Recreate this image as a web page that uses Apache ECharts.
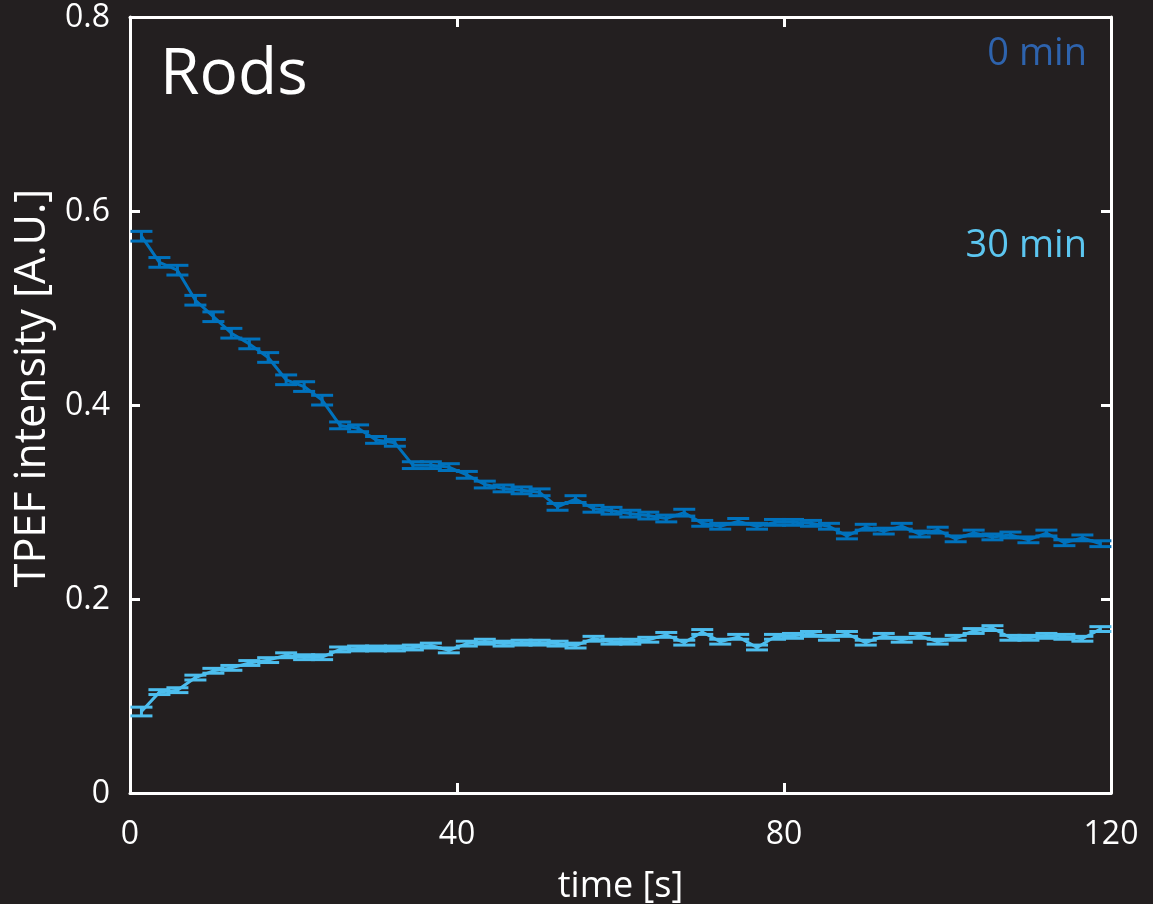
<!DOCTYPE html>
<html>
<head>
<meta charset="utf-8">
<script src="https://cdn.jsdelivr.net/npm/echarts@6/dist/echarts.min.js"></script>
<style>
  html, body { margin: 0; padding: 0; background: #231f20; }
  #chart { width: 1153px; height: 904px; }
</style>
</head>
<body>
<div id="chart"></div>
<script>
// time of each frame [s]
var times = [1.4, 3.6, 5.8, 8.0, 10.2, 12.4, 14.6, 16.9, 19.1, 21.3,
  23.5, 25.7, 27.9, 30.1, 32.4, 34.6, 36.8, 39.0, 41.2, 43.4,
  45.7, 47.9, 50.1, 52.3, 54.5, 56.7, 58.9, 61.2, 63.4, 65.6,
  67.8, 70.0, 72.2, 74.4, 76.7, 78.9, 81.1, 83.3, 85.5, 87.7,
  90.0, 92.2, 94.4, 96.6, 98.8, 101.0, 103.2, 105.5, 107.7, 109.9,
  112.1, 114.3, 116.5, 118.7];

// 0 min
var min0 = [0.574, 0.547, 0.539, 0.508, 0.491, 0.474, 0.463, 0.449, 0.426, 0.419,
  0.405, 0.379, 0.376, 0.364, 0.361, 0.338, 0.338, 0.336, 0.328, 0.318,
  0.314, 0.312, 0.310, 0.295, 0.303, 0.293, 0.291, 0.288, 0.286, 0.283,
  0.289, 0.278, 0.275, 0.280, 0.275, 0.279, 0.279, 0.278, 0.275, 0.265,
  0.274, 0.270, 0.275, 0.267, 0.271, 0.262, 0.268, 0.264, 0.266, 0.261,
  0.268, 0.258, 0.263, 0.257];
var min0Err = [0.005, 0.005, 0.005, 0.005, 0.005, 0.005, 0.005, 0.005, 0.005, 0.005,
  0.005, 0.0035, 0.0035, 0.0035, 0.0035, 0.0035, 0.0035, 0.0035, 0.0035, 0.0035,
  0.0035, 0.0035, 0.0035, 0.0035, 0.0035, 0.0035, 0.0035, 0.0035, 0.0035, 0.0035,
  0.0035, 0.003, 0.003, 0.003, 0.003, 0.003, 0.003, 0.003, 0.003, 0.003,
  0.003, 0.003, 0.003, 0.003, 0.003, 0.003, 0.003, 0.003, 0.003, 0.003,
  0.003, 0.003, 0.003, 0.003];

// 30 min
var min30 = [0.084, 0.104, 0.106, 0.119, 0.126, 0.129, 0.134, 0.137, 0.142, 0.140,
  0.140, 0.148, 0.149, 0.149, 0.149, 0.150, 0.152, 0.147, 0.154, 0.156,
  0.154, 0.155, 0.155, 0.154, 0.152, 0.159, 0.156, 0.156, 0.158, 0.163,
  0.155, 0.166, 0.156, 0.161, 0.150, 0.161, 0.162, 0.164, 0.160, 0.164,
  0.155, 0.162, 0.158, 0.162, 0.156, 0.160, 0.167, 0.170, 0.160, 0.160,
  0.162, 0.161, 0.159, 0.169];
var min30Err = [0.0045, 0.0025, 0.0025, 0.0025, 0.0025, 0.0025, 0.0025, 0.0025, 0.0025, 0.0025,
  0.0025, 0.0025, 0.0025, 0.0025, 0.0025, 0.0025, 0.0025, 0.0025, 0.0025, 0.0025,
  0.0025, 0.0025, 0.0025, 0.0025, 0.0025, 0.0025, 0.0025, 0.0025, 0.0025, 0.0025,
  0.0025, 0.0025, 0.0025, 0.0025, 0.0025, 0.0025, 0.0025, 0.0025, 0.0025, 0.0025,
  0.0025, 0.0025, 0.0025, 0.0025, 0.0025, 0.0025, 0.0025, 0.0025, 0.0025, 0.0025,
  0.0025, 0.0025, 0.0025, 0.0025];

var xTicks = [0, 40, 80, 120];
var yTicks = [0, 0.2, 0.4, 0.6, 0.8];

var BLUE = '#0072bd';
var LIGHT = '#4dbeee';
var FONT = 'Open Sans';

function pairs(ys) {
  return times.map(function (t, i) { return [t, ys[i]]; });
}
function triples(ys, errs) {
  return times.map(function (t, i) { return [t, ys[i], errs[i]]; });
}

function errorBars(color) {
  return function (params, api) {
    var x = api.value(0), y = api.value(1), e = api.value(2);
    var lo = api.coord([x, y - e]);
    var hi = api.coord([x, y + e]);
    var w = 11;
    var st = { stroke: color, lineWidth: 3 };
    return {
      type: 'group',
      children: [
        { type: 'line', shape: { x1: lo[0], y1: lo[1], x2: hi[0], y2: hi[1] }, style: st },
        { type: 'line', shape: { x1: lo[0] - w, y1: lo[1], x2: lo[0] + w, y2: lo[1] }, style: st },
        { type: 'line', shape: { x1: hi[0] - w, y1: hi[1], x2: hi[0] + w, y2: hi[1] }, style: st }
      ]
    };
  };
}

var axisLine = { show: true, onZero: false, lineStyle: { color: '#fff', width: 3 } };
var axisTick = { show: true, inside: true, length: 10, lineStyle: { color: '#fff', width: 3 } };

var chart = echarts.init(document.getElementById('chart'));
chart.setOption({
  backgroundColor: '#231f20',
  animation: false,
  textStyle: { fontFamily: FONT },
  grid: { left: 130, right: 42, top: 17, bottom: 111, outerBoundsMode: 'none', containLabel: false },
  xAxis: [
    {
      type: 'value', min: xTicks[0], max: xTicks[xTicks.length - 1], interval: 40,
      position: 'bottom',
      name: 'time [s]', nameLocation: 'middle', nameGap: 76,
      nameTextStyle: { color: '#fff', fontSize: 36, fontFamily: FONT },
      axisLine: axisLine, axisTick: axisTick, splitLine: { show: false },
      axisLabel: { color: '#fff', fontSize: 32, margin: 26, fontFamily: FONT }
    },
    {
      type: 'value', min: xTicks[0], max: xTicks[xTicks.length - 1], interval: 40,
      position: 'top',
      axisLine: axisLine, axisTick: axisTick, splitLine: { show: false },
      axisLabel: { show: false }
    }
  ],
  yAxis: [
    {
      type: 'value', min: yTicks[0], max: yTicks[yTicks.length - 1], interval: 0.2,
      position: 'left',
      name: 'TPEF intensity [A.U.]', nameLocation: 'middle', nameGap: 74,
      nameTextStyle: { color: '#fff', fontSize: 43, fontFamily: FONT, padding: [0, 0, 0, 34] },
      axisLine: axisLine, axisTick: axisTick, splitLine: { show: false },
      axisLabel: { color: '#fff', fontSize: 32, margin: 20, fontFamily: FONT, verticalAlign: 'top', padding: [-15, 0, 0, 0] }
    },
    {
      type: 'value', min: yTicks[0], max: yTicks[yTicks.length - 1], interval: 0.2,
      position: 'right',
      axisLine: axisLine, axisTick: axisTick, splitLine: { show: false },
      axisLabel: { show: false }
    }
  ],
  graphic: [
    { type: 'text', left: 160, top: 44, style: { text: 'Rods', fill: '#fff', font: '64px "Open Sans"' } },
    { type: 'text', right: 66, top: 35, style: { text: '0 min', fill: '#2e63ad', font: '38px "Open Sans"' } },
    { type: 'text', right: 66, top: 227, style: { text: '30 min', fill: '#5cc6f0', font: '38px "Open Sans"' } }
  ],
  series: [
    {
      name: '30 min', type: 'line', data: pairs(min30), showSymbol: false, symbol: 'none',
      lineStyle: { color: LIGHT, width: 3 }, z: 2
    },
    {
      name: '30 min err', type: 'custom', data: triples(min30, min30Err),
      encode: { x: 0, y: 1 }, renderItem: errorBars(LIGHT), z: 2
    },
    {
      name: '0 min', type: 'line', data: pairs(min0), showSymbol: false, symbol: 'none',
      lineStyle: { color: BLUE, width: 3 }, z: 3
    },
    {
      name: '0 min err', type: 'custom', data: triples(min0, min0Err),
      encode: { x: 0, y: 1 }, renderItem: errorBars(BLUE), z: 3
    }
  ]
});
</script>
</body>
</html>
